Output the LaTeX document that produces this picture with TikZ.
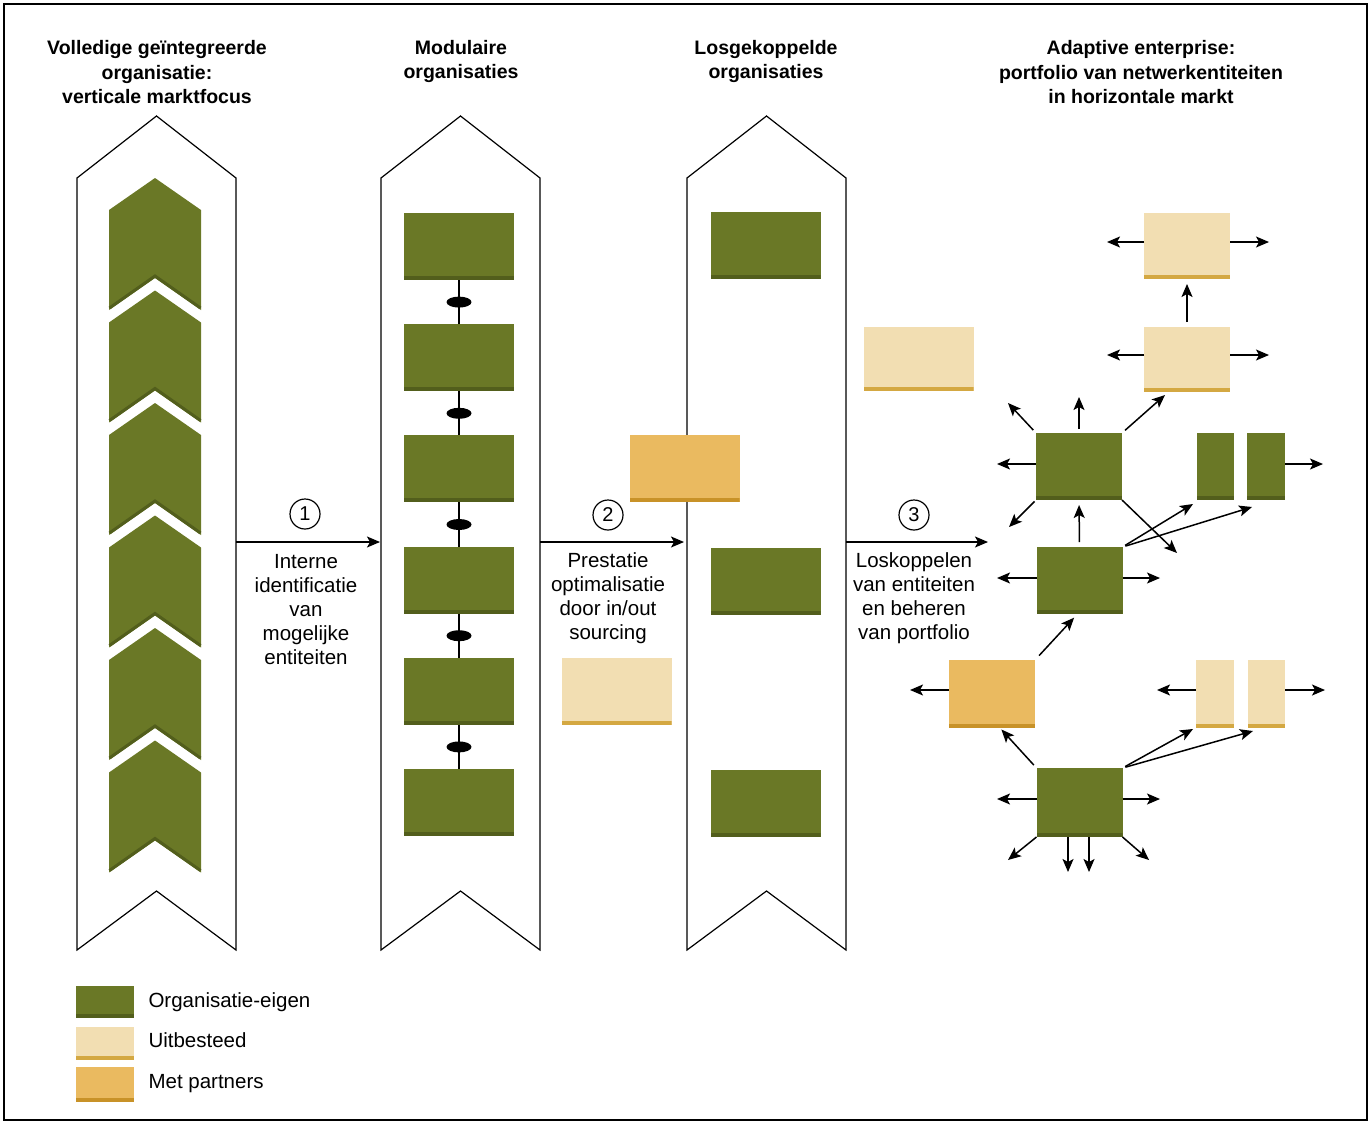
\documentclass[tikz,border=0pt]{standalone}
\usepackage{fontspec}
\setmainfont{Liberation Sans}
\usetikzlibrary{arrows.meta,shapes.geometric,calc}

\definecolor{owngreen}{RGB}{106,120,38}
\definecolor{owngreendark}{RGB}{82,94,28}
\definecolor{outsrc}{RGB}{242,222,178}
\definecolor{outsrcdark}{RGB}{212,168,66}
\definecolor{partner}{RGB}{234,186,96}
\definecolor{partnerdark}{RGB}{200,146,40}

\begin{document}
\begin{tikzpicture}[x=1pt,y=-1pt,
  banner/.style={draw=black, line width=1.2pt, fill=white, line join=miter},
  box/.style={fill=#1, inner sep=0pt, outer sep=0pt,
    path picture={\fill[#1dark] ([yshift=4pt]path picture bounding box.south west)
      rectangle (path picture bounding box.south east);}},
  bigbox/.style={minimum width=110pt, minimum height=67pt},
  netbox/.style={minimum width=86pt, minimum height=67pt},
  slimbox/.style={minimum width=37pt, minimum height=67pt},
  joint/.style={ellipse, fill=black, inner sep=0pt, minimum width=25pt, minimum height=11pt},
  arr/.style={line width=1.5pt, -{Stealth[length=13pt,width=11pt,inset=3pt]}},
  title/.style={font=\fontsize{19.5}{24.5}\selectfont\bfseries, align=center},
  caption/.style={font=\fontsize{20.5}{24}\selectfont, align=center},
  stepnum/.style={circle, draw=black, line width=1.2pt, minimum size=30pt, inner sep=0pt,
    font=\fontsize{20}{24}\selectfont},
  legendtext/.style={anchor=base west, font=\fontsize{20.5}{24}\selectfont}]

\useasboundingbox (0,0) rectangle (1372,1124);
\draw[line width=1.3pt] (4,4) rectangle (1367,1120);

% column headings
\node[title] (h1) at (157,72.5) {Volledige geïntegreerde\\organisatie:\\verticale marktfocus};
\node[title] (h2) at (461,61.5) {Modulaire\\organisaties};
\node[title] (h3) at (766,61.5) {Losgekoppelde\\organisaties};
\node[title] (h4) at (1141,72.5) {Adaptive enterprise:\\portfolio van netwerkentiteiten\\in horizontale markt};

% banner columns
\draw[banner] (77,178) -- (156.5,116) -- (236,178) -- (236,950) -- (156.5,891) -- (77,950) -- cycle;
\draw[banner] (381,178) -- (460.5,116) -- (540,178) -- (540,950) -- (460.5,891) -- (381,950) -- cycle;
\draw[banner] (687,178) -- (766.5,116) -- (846,178) -- (846,950) -- (766.5,891) -- (687,950) -- cycle;

% column 1: stacked chevrons with a shaded lower notch
\foreach \k in {0,...,5}{
  \pgfmathsetmacro\ya{178+112.5*\k}
  \fill[owngreen] (155,\ya) -- (201,\ya+32) -- (201,\ya+132) -- (155,\ya+100)
    -- (109,\ya+132) -- (109,\ya+32) -- cycle;
  \draw[owngreendark, line width=3pt, line join=miter]
    (109.5,\ya+130) -- (155,\ya+98) -- (200.5,\ya+130);
}

% column 2: modules joined by links
\foreach \k in {1,...,6}{
  \node[box=owngreen, bigbox] (m\k) at (459,{246.5+111.2*(\k-1)}) {};
}
\foreach \k [evaluate=\k as \n using int(\k+1)] in {1,...,5}{
  \draw[line width=1.4pt] (m\k.south) -- (m\n.north);
  \node[joint] (j\k) at ($(m\k.south)!0.5!(m\n.north)$) {};
}

% column 3: decoupled entities
\node[box=owngreen, bigbox] (d1) at (765.5,245.5) {};
\node[box=outsrc, bigbox, minimum height=64pt] (d2) at (918.5,358.5) {};
\node[box=partner, bigbox] (d3) at (684.5,468.5) {};
\node[box=owngreen, bigbox] (d4) at (765.5,581) {};
\node[box=outsrc, bigbox] (d5) at (616.5,691.5) {};
\node[box=owngreen, bigbox] (d6) at (765.5,803) {};

% transition arrows
\coordinate (e1) at (236,542); \coordinate (w2) at (381,542);
\coordinate (e2) at (540,542); \coordinate (w3) at (687,542);
\coordinate (e3) at (846,542); \coordinate (w4) at (991,542);
\draw[arr, shorten >=1pt] (e1) -- (w2);
\draw[arr, shorten >=3pt] (e2) -- (w3);
\draw[arr, shorten >=3pt] (e3) -- (w4);

\node[stepnum] (s1) at (305,514) {1};
\node[stepnum] (s2) at (608,515) {2};
\node[stepnum] (s3) at (914,515) {3};

\node[caption] (c1) at (306,610) {Interne\\identificatie\\van\\mogelijke\\entiteiten};
\node[caption] (c2) at (608,598) {Prestatie\\optimalisatie\\door in/out\\sourcing};
\node[caption] (c3) at (914,598) {Loskoppelen\\van entiteiten\\en beheren\\van portfolio};

% network of entities
\node[box=outsrc, netbox, minimum height=66pt] (t1) at (1187,246) {};
\node[box=outsrc, netbox, minimum height=65pt] (t2) at (1187,359.5) {};
\node[box=owngreen, netbox] (g1) at (1079,466.5) {};
\node[box=owngreen, slimbox] (g2a) at (1215.5,466.5) {};
\node[box=owngreen, slimbox, minimum width=38pt] (g2b) at (1266,466.5) {};
\node[box=owngreen, netbox] (g3) at (1079.5,580.5) {};
\node[box=partner, netbox, minimum height=68pt] (p1) at (992,694) {};
\node[box=outsrc, slimbox, minimum height=68pt, minimum width=38pt] (l1) at (1215,694) {};
\node[box=outsrc, slimbox, minimum height=68pt] (l2) at (1266.5,694) {};
\node[box=owngreen, netbox, minimum height=69pt] (g4) at (1079.5,802.5) {};

% free ends of the outgoing links
\coordinate (t1w) at (1107,242); \coordinate (t1e) at (1269,242);
\coordinate (t2w) at (1107,355); \coordinate (t2e) at (1269,355);
\coordinate (g1w) at (997,464);  \coordinate (g1nw) at (1008,403);
\coordinate (g1sw) at (1009,527); \coordinate (g1se) at (1177,553);
\coordinate (g2e) at (1323,464);
\coordinate (g3w) at (997,578);  \coordinate (g3e) at (1160,578);
\coordinate (p1w) at (910,690);
\coordinate (l1w) at (1157,690); \coordinate (l2e) at (1325,690);
\coordinate (g4w) at (997,799);  \coordinate (g4e) at (1160,799);
\coordinate (g4sw) at (1008,860); \coordinate (g4se) at (1149,860);
\coordinate (g4s1) at (1068,872); \coordinate (g4s2) at (1089,872);

% links around the top outsourced entities
\draw[arr] (t1.west |- t1w) -- (t1w);
\draw[arr] (t1.east |- t1e) -- (t1e);
\draw[arr] (t2.west |- t2w) -- (t2w);
\draw[arr] (t2.east |- t2e) -- (t2e);
\draw[arr, shorten <=5pt, shorten >=5pt] (t2.north) -- (t1.south);

% links of the upper own entity
\draw[arr] (g1.west |- g1w) -- (g1w);
\draw[arr, shorten <=4pt] (g1.north west) -- (g1nw);
\draw[arr, shorten <=4pt, shorten >=2pt] (g1.north) -- ++(0,-38);
\draw[arr, shorten <=4pt] (g1.north east) -- ([xshift=21pt,yshift=-3pt]t2.south west);
\draw[arr, shorten <=2pt] (g1.south west) -- (g1sw);
\draw[arr] (g1.south east) -- (g1se);
\draw[arr] (g2b.east |- g2e) -- (g2e);

% links of the middle own entity
\draw[arr, shorten <=5pt, shorten >=5pt] (g3.north) -- (g1.south);
\draw[arr, shorten <=3pt] (g3.north east) -- ([xshift=-4pt,yshift=-4pt]g2a.south west);
\draw[arr, shorten <=3pt] (g3.north east) -- ([xshift=5pt,yshift=-7pt]g2b.south west);
\draw[arr] (g3.west |- g3w) -- (g3w);
\draw[arr] (g3.east |- g3e) -- (g3e);

% links of the partner and the lower outsourced entities
\draw[arr] (p1.west |- p1w) -- (p1w);
\draw[arr, shorten <=6pt, shorten >=5pt] (p1.north east) -- ([xshift=-2pt]g3.south);
\draw[arr] (l1.west |- l1w) -- (l1w);
\draw[arr] (l2.east |- l2e) -- (l2e);

% links of the lower own entity
\draw[arr] (g4.west |- g4w) -- (g4w);
\draw[arr] (g4.east |- g4e) -- (g4e);
\draw[arr, shorten <=4pt, shorten >=2pt] (g4.north west) -- ([xshift=8pt]p1.south);
\draw[arr, shorten <=3pt] (g4.north east) -- ([xshift=-3pt,yshift=-1pt]l1.south west);
\draw[arr, shorten <=3pt] (g4.north east) -- ([xshift=5pt,yshift=-3pt]l2.south west);
\draw[arr] (g4.south west) -- (g4sw);
\draw[arr] (g4.south east) -- (g4se);
\draw[arr] (g4.south -| g4s1) -- (g4s1);
\draw[arr] (g4.south -| g4s2) -- (g4s2);

% legend
\node[box=owngreen, minimum width=58pt, minimum height=32pt] (k1) at (105,1002) {};
\node[box=outsrc, minimum width=58pt, minimum height=33pt] (k2) at (105,1043.5) {};
\node[box=partner, minimum width=58pt, minimum height=35pt] (k3) at (105,1084.5) {};
\node[legendtext] (k1t) at (145,1007) {Organisatie-eigen};
\node[legendtext] (k2t) at (145,1047) {Uitbesteed};
\node[legendtext] (k3t) at (145,1088) {Met partners};
\end{tikzpicture}
\end{document}
